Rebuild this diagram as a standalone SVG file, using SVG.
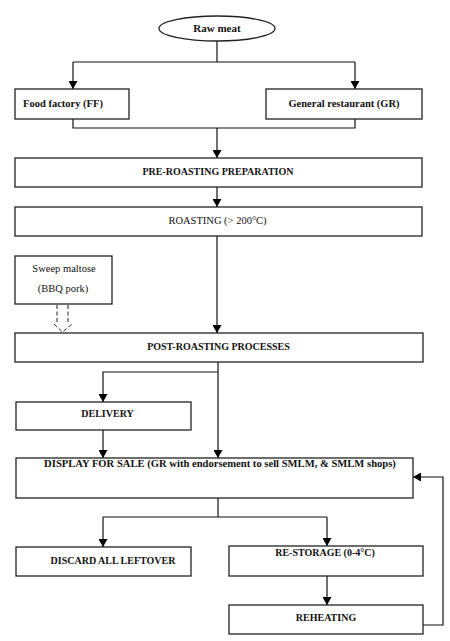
<svg xmlns="http://www.w3.org/2000/svg" width="450" height="641" viewBox="0 0 450 641">
<defs>
<marker id="ah" markerWidth="8" markerHeight="9" refX="8" refY="4.5" orient="auto" markerUnits="userSpaceOnUse">
<path d="M0,0 L8,4.5 L0,9 Z" fill="#000"/>
</marker>
</defs>
<style>
.box{fill:#fff;stroke:#222;stroke-width:1.3}
.ln{fill:none;stroke:#111;stroke-width:1.2}
.t{font-family:"Liberation Serif","Times New Roman",serif;font-size:10.5px;fill:#111;text-anchor:middle}
.b{font-weight:bold}
.u{font-size:10px}
.dash{fill:none;stroke:#222;stroke-width:1;stroke-dasharray:4,2.5}
</style>
<rect width="450" height="641" fill="#fff"/>
<g id="connectors">
<path class="ln" d="M217,41 V62"/>
<path class="ln" d="M73,62 H355"/>
<path class="ln" d="M73,62 V89" marker-end="url(#ah)"/>
<path class="ln" d="M355,62 V89" marker-end="url(#ah)"/>
<path class="ln" d="M73,119 V128 H355 V119"/>
<path class="ln" d="M217,128 V158" marker-end="url(#ah)"/>
<path class="ln" d="M217,187 V207" marker-end="url(#ah)"/>
<path class="ln" d="M217,236 V333" marker-end="url(#ah)"/>
<path class="ln" d="M218,362 V458" marker-end="url(#ah)"/>
<path class="ln" d="M218,372 H103 V402" marker-end="url(#ah)"/>
<path class="ln" d="M103,430 V458" marker-end="url(#ah)"/>
<path class="ln" d="M218,498 V517"/>
<path class="ln" d="M103,517 H327"/>
<path class="ln" d="M103,517 V547" marker-end="url(#ah)"/>
<path class="ln" d="M327,517 V546" marker-end="url(#ah)"/>
<path class="ln" d="M327,576 V605" marker-end="url(#ah)"/>
<path class="ln" d="M423,625 H443 V477 H413" marker-end="url(#ah)"/>
<path class="dash" d="M57,305 V324 M68,305 V324"/>
<path class="dash" d="M54,324 L62.5,332 L72,324"/>
</g>
<g id="raw-meat">
<ellipse class="box" cx="217" cy="28.5" rx="58" ry="12.5"/>
<text class="t" x="217" y="32" style="font-weight:600;font-size:11px">Raw meat</text>
</g>
<g id="food-factory">
<rect class="box" x="15" y="89" width="114" height="30"/>
<text class="t b" x="23" y="107" style="text-anchor:start">Food factory (FF)</text>
</g>
<g id="general-restaurant">
<rect class="box" x="266" y="89" width="156" height="30"/>
<text class="t b" x="344" y="107">General restaurant (GR)</text>
</g>
<g id="pre-roasting">
<rect class="box" x="15" y="158" width="407" height="29"/>
<text class="t b u" x="218" y="175">PRE-ROASTING PREPARATION</text>
</g>
<g id="roasting">
<rect class="box" x="15" y="207" width="407" height="29"/>
<text class="t" x="217.5" y="224">ROASTING (&gt; 200°C)</text>
</g>
<g id="sweep-maltose">
<rect class="box" x="15" y="256" width="97" height="48"/>
<text class="t" x="64" y="272">Sweep maltose</text>
<text class="t" x="63" y="292">(BBQ pork)</text>
</g>
<g id="post-roasting">
<rect class="box" x="15" y="333" width="408" height="29"/>
<text class="t b u" x="218.5" y="350">POST-ROASTING PROCESSES</text>
</g>
<g id="delivery">
<rect class="box" x="16" y="402" width="175" height="28"/>
<text class="t b u" x="107.5" y="417">DELIVERY</text>
</g>
<g id="display">
<rect class="box" x="16" y="458" width="397" height="40"/>
<text class="t b" x="220" y="467" style="font-size:10.6px">DISPLAY FOR SALE (GR with endorsement to sell SMLM, &amp; SMLM shops)</text>
</g>
<g id="discard">
<rect class="box" x="16" y="547" width="175" height="29"/>
<text class="t b u" x="113" y="564">DISCARD ALL LEFTOVER</text>
</g>
<g id="re-storage">
<rect class="box" x="229" y="546" width="194" height="30"/>
<text class="t b u" x="325" y="556">RE-STORAGE (0-4°C)</text>
</g>
<g id="reheating">
<rect class="box" x="229" y="605" width="194" height="29"/>
<text class="t b u" x="326" y="621">REHEATING</text>
</g>
</svg>
